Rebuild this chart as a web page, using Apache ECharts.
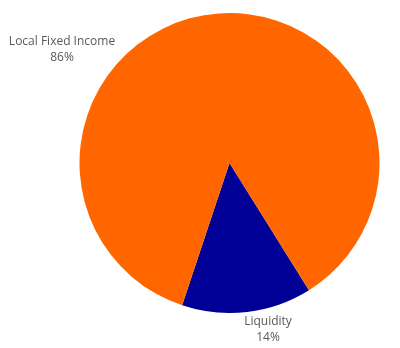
<!DOCTYPE html>
<html>
<head>
<meta charset="utf-8">
<script src="https://cdn.jsdelivr.net/npm/echarts@6/dist/echarts.min.js"></script>
<style>html,body{margin:0;padding:0;background:#fff}#c{width:400px;height:348px}</style>
</head>
<body>
<div id="c"></div>
<script>
const categories = ['Liquidity', 'Local Fixed Income'];
const values = [14, 86];
const colors = ['#000096', '#FF6600'];
const labelPos = [[268, 330], [62, 50]];

const chart = echarts.init(document.getElementById('c'), null, {renderer: 'canvas'});
chart.setOption({
  animation: false,
  series: [{
    type: 'pie',
    center: [229.5, 163],
    radius: 150,
    startAngle: -58,
    clockwise: true,
    data: categories.map((c, i) => ({name: c, value: values[i], itemStyle: {color: colors[i]}})),
    label: {
      show: true,
      position: 'outside',
      formatter: '{b}\n{d}%',
      color: '#595959',
      fontFamily: 'Open Sans',
      fontSize: 12,
      lineHeight: 16,
      align: 'center'
    },
    labelLine: {show: false},
    labelLayout: function (p) {
      const pos = labelPos[p.dataIndex];
      return {x: pos[0], y: pos[1], align: 'center', verticalAlign: 'middle'};
    }
  }]
});
</script>
</body>
</html>
